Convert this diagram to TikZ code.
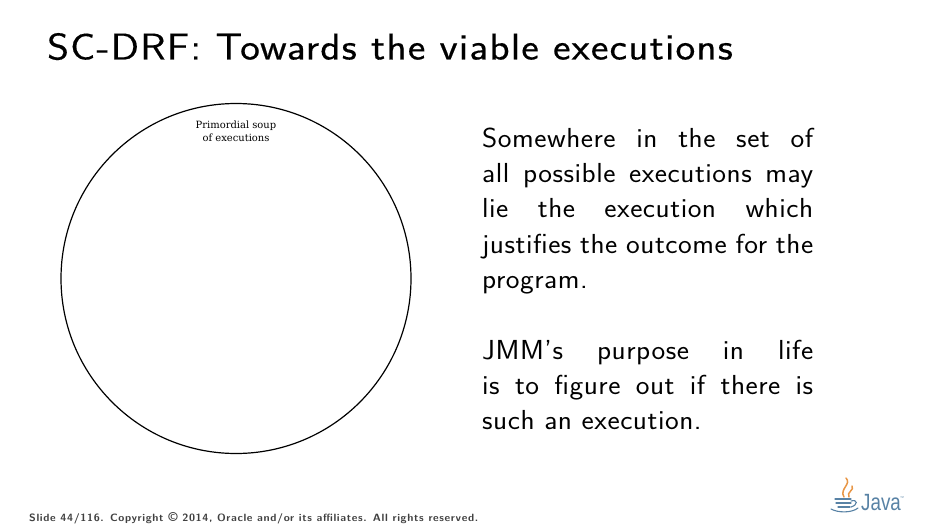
\documentclass[tikz,border=0pt]{standalone}
\usepackage{fontspec}
\setsansfont{Latin Modern Sans}
\newfontfamily\soupfont{DejaVu Serif}
\newfontfamily\javafont{Liberation Sans}
\newfontfamily\titlefont[LetterSpace=3.2,FakeStretch=1.12,FakeBold=0.35]{Latin Modern Sans}
\newfontfamily\bodyfont[LetterSpace=1.9,FakeStretch=1.06]{Latin Modern Sans}
\newfontfamily\footfont[LetterSpace=6,FakeStretch=1.04]{Latin Modern Sans}
\definecolor{javablue}{RGB}{88,130,165}
\definecolor{javaorange}{RGB}{232,150,70}
\tikzset{
  x=1pt,y=-1pt,
  titletext/.style={anchor=base west,inner sep=0pt,font=\titlefont\fontsize{37.3}{42}\selectfont},
  bodytext/.style={anchor=north west,inner sep=0pt,text width=331pt,align=justify,font=\bodyfont\fontsize{27.5}{35.3}\selectfont},
  souptext/.style={inner sep=0pt,align=center,font=\soupfont\fontsize{9.95}{13}\selectfont},
  foottext/.style={anchor=base west,inner sep=0pt,font=\footfont\bfseries\fontsize{10.55}{11}\selectfont,text=black!75},
  steam/.style={draw=javaorange,line width=1.5pt,line cap=round},
  cup/.style={draw=javablue,line width=1.1pt,line cap=round},
}
\begin{document}
\begin{tikzpicture}
\useasboundingbox (0,0) rectangle (945,532);
\node[titletext] (title) at (47,59.5) {SC-DRF: Towards the viable executions};
\node[draw=black,line width=1.2pt,circle,minimum size=350pt,inner sep=0pt] (soup) at (236,278.5) {};
\node[souptext] (souplabel) at (236,131.5) {Primordial soup\\of executions};
\node[bodytext] (para1) at (482,127.4) {Somewhere in the set of\linebreak all possible executions may\linebreak lie the execution which\linebreak justifies the outcome for the\linebreak program.};
\node[bodytext] (para2) at (482,339.5) {JMM’s purpose in life\linebreak is to figure out if there is\linebreak such an execution.};
\node[foottext] (foot) at (29,521) {Slide 44/116. Copyright {\fontsize{13}{13}\selectfont\textcopyright} 2014, Oracle and/or its affiliates. All rights reserved.};
% Java logo
\draw[steam] (846,478) .. controls (852,484) and (839,489) .. (844,497);
\draw[steam] (852,486) .. controls (855,490) and (846,492) .. (849,497);
\draw[cup] (835,499) -- (851,499) (836,503) -- (851,503) (838,507) -- (850,507);
\draw[cup] (851,501) .. controls (858,499) and (858,505) .. (851,507);
\draw[cup] (831,509) .. controls (838,513) and (852,513) .. (858,508);
\node[anchor=base west,inner sep=0pt,text=javablue,xscale=.8,font=\javafont\fontsize{23.5}{25}\selectfont] (java) at (861,510) {Java};
\node[anchor=base west,inner sep=0pt,text=javablue,font=\javafont\fontsize{4}{5}\selectfont] (tm) at (900,499) {™};
\end{tikzpicture}
\end{document}
